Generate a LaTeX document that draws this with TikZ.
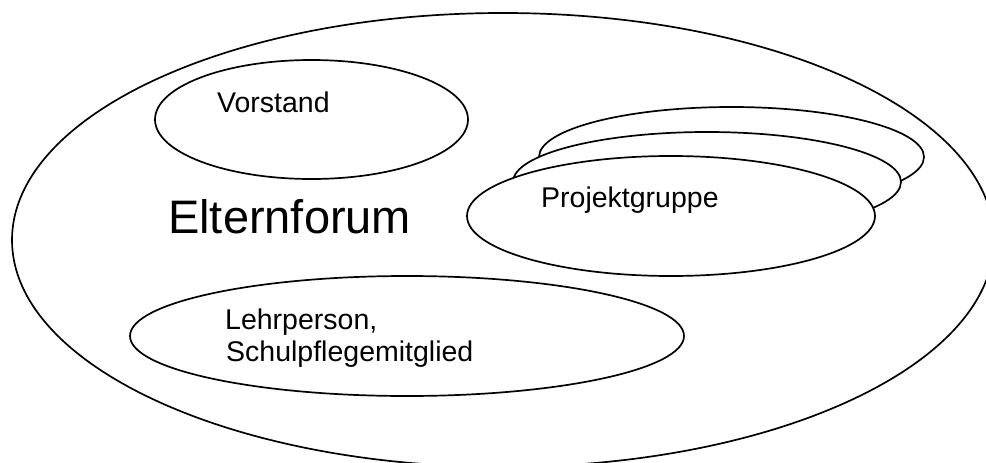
\documentclass[tikz,border=0pt]{standalone}
\usepackage{fontspec}
\setmainfont{Liberation Sans}
\usetikzlibrary{shapes.geometric}
\tikzset{
  oval/.style={ellipse, draw=black, fill=white, line width=1.7pt, inner sep=0pt, outer sep=0pt},
  lbl/.style={anchor=base west, inner sep=0pt, font=\fontsize{28.5}{32}\selectfont},
  biglbl/.style={anchor=base west, inner sep=0pt, font=\fontsize{47}{52}\selectfont}
}
\begin{document}
\begin{tikzpicture}[x=1pt, y=-1pt]
\useasboundingbox (0,0) rectangle (986,463);
\clip (0,0) rectangle (986,463);
\fill[white] (0,0) rectangle (986,463);
% outer
\node[oval, minimum width=982pt, minimum height=454pt] (forum) at (503,240) {};
% Vorstand
\node[oval, minimum width=313pt, minimum height=119pt] (vorstand) at (311.5,119.5) {};
% Projektgruppe stack
\node[oval, minimum width=385pt, minimum height=100pt] (pg3) at (731.5,157) {};
\node[oval, minimum width=388pt, minimum height=100pt] (pg2) at (707,182) {};
\node[oval, minimum width=408pt, minimum height=120pt] (pg1) at (671,216) {};
% Lehrperson
\node[oval, minimum width=554pt, minimum height=120pt] (lehr) at (407,336) {};
% labels
\node[lbl] (tv) at (217,112) {Vorstand};
\node[biglbl] (tf) at (168,233) {Elternforum};
\node[lbl] (tp) at (541,207) {Projektgruppe};
\node[lbl] (tl1) at (225,329) {Lehrperson,};
\node[lbl] (tl2) at (226,361) {Schulpflegemitglied};
\end{tikzpicture}
\end{document}
